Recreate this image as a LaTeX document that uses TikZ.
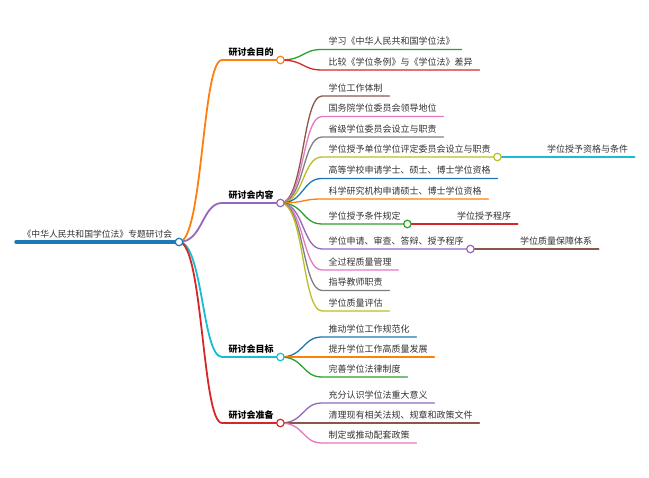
\documentclass[tikz,border=0pt]{standalone}
\usepackage{fontspec}
\setmainfont{Noto Sans CJK SC}
\usetikzlibrary{positioning}
\definecolor{cblue}{HTML}{1F77B4}
\definecolor{corange}{HTML}{FF7F0E}
\definecolor{cgreen}{HTML}{2CA02C}
\definecolor{cred}{HTML}{D62728}
\definecolor{cpurple}{HTML}{9467BD}
\definecolor{cbrown}{HTML}{8C564B}
\definecolor{cpink}{HTML}{E377C2}
\definecolor{cgray}{HTML}{7F7F7F}
\definecolor{colive}{HTML}{BCBD22}
\definecolor{ccyan}{HTML}{17BECF}
\begin{document}
\begin{tikzpicture}[x=1pt, y=-1pt, line cap=round, line join=round, font=\fontsize{9}{11}\selectfont]
	\tikzset{topic/.style={anchor=south west, inner xsep=6.5pt, inner ysep=4.5pt, text height=7pt, text depth=0pt, text=black!80},
		main/.style={topic, font=\fontsize{9}{11}\selectfont\bfseries, text=black},
		dot/.style={circle, draw=#1, fill=white, line width=1.2pt, inner sep=0pt, minimum size=7.5pt},
		thick link/.style={line width=1.8pt},
		thin link/.style={line width=1.3pt}}
	\useasboundingbox (0,0) rectangle (649,478);
	% root and main topics
	\node[topic, font=\fontsize{8.8}{11}\selectfont] (root) at (16,242) {《中华人民共和国学位法》专题研讨会};
	\node[main] (aim) at (222,60) {研讨会目的};
	\node[main] (cont) at (222,203) {研讨会内容};
	\node[main] (goal) at (222,357) {研讨会目标};
	\node[main] (prep) at (222,423) {研讨会准备};
	% subtopics
	\node[topic] (aim1) at (322,49.5) {学习《中华人民共和国学位法》};
	\node[topic] (aim2) at (322,70) {比较《学位条例》与《学位法》差异};
	\node[topic] (cont1) at (322,96) {学位工作体制};
	\node[topic] (cont2) at (322,116.5) {国务院学位委员会领导地位};
	\node[topic] (cont3) at (322,137) {省级学位委员会设立与职责};
	\node[topic] (cont4) at (322,157) {学位授予单位学位评定委员会设立与职责};
	\node[topic] (cont5) at (322,178.5) {高等学校申请学士、硕士、博士学位资格};
	\node[topic] (cont6) at (322,199) {科学研究机构申请硕士、博士学位资格};
	\node[topic] (cont7) at (322,224) {学位授予条件规定};
	\node[topic] (cont8) at (322,249) {学位申请、审查、答辩、授予程序};
	\node[topic] (cont9) at (322,270) {全过程质量管理};
	\node[topic] (cont10) at (322,290.5) {指导教师职责};
	\node[topic] (cont11) at (322,311) {学位质量评估};
	\node[topic] (cont4a) at ([xshift=43pt]cont4.south east) {学位授予资格与条件};
	\node[topic] (cont7a) at ([xshift=43pt]cont7.south east) {学位授予程序};
	\node[topic] (cont8a) at ([xshift=43pt]cont8.south east) {学位质量保障体系};
	\node[topic] (goal1) at (322,337) {推动学位工作规范化};
	\node[topic] (goal2) at (322,357) {提升学位工作高质量发展};
	\node[topic] (goal3) at (322,377) {完善学位法律制度};
	\node[topic] (prep1) at (322,403) {充分认识学位法重大意义};
	\node[topic] (prep2) at (322,423) {清理现有相关法规、规章和政策文件};
	\node[topic] (prep3) at (322,443) {制定或推动配套政策};
	% branches
	\draw[cblue, line width=3.5pt] (root.south west)--(root.south east);
	\draw[corange, thick link] (root.south east) .. controls +(24,0) and +(-20,0) .. (aim.south west)--(aim.south east);
	\draw[cpurple, thick link] (root.south east) .. controls +(24,0) and +(-20,0) .. (cont.south west)--(cont.south east);
	\draw[ccyan, thick link] (root.south east) .. controls +(24,0) and +(-20,0) .. (goal.south west)--(goal.south east);
	\draw[cred, thick link] (root.south east) .. controls +(24,0) and +(-20,0) .. (prep.south west)--(prep.south east);
	\draw[cgreen, thin link] (aim.south east) .. controls +(24,0) and +(-20,0) .. (aim1.south west)--(aim1.south east);
	\draw[cred, thin link] (aim.south east) .. controls +(24,0) and +(-20,0) .. (aim2.south west)--(aim2.south east);
	\draw[cbrown, thin link] (cont.south east) .. controls +(24,0) and +(-20,0) .. (cont1.south west)--(cont1.south east);
	\draw[cpink, thin link] (cont.south east) .. controls +(24,0) and +(-20,0) .. (cont2.south west)--(cont2.south east);
	\draw[cgray, thin link] (cont.south east) .. controls +(24,0) and +(-20,0) .. (cont3.south west)--(cont3.south east);
	\draw[colive, thin link] (cont.south east) .. controls +(24,0) and +(-20,0) .. (cont4.south west)--(cont4.south east);
	\draw[cblue, thin link] (cont.south east) .. controls +(24,0) and +(-20,0) .. (cont5.south west)--(cont5.south east);
	\draw[corange, thin link] (cont.south east) .. controls +(24,0) and +(-20,0) .. (cont6.south west)--(cont6.south east);
	\draw[cgreen, thin link] (cont.south east) .. controls +(24,0) and +(-20,0) .. (cont7.south west)--(cont7.south east);
	\draw[cpurple, thin link] (cont.south east) .. controls +(24,0) and +(-20,0) .. (cont8.south west)--(cont8.south east);
	\draw[cpink, thin link] (cont.south east) .. controls +(24,0) and +(-20,0) .. (cont9.south west)--(cont9.south east);
	\draw[cgray, thin link] (cont.south east) .. controls +(24,0) and +(-20,0) .. (cont10.south west)--(cont10.south east);
	\draw[colive, thin link] (cont.south east) .. controls +(24,0) and +(-20,0) .. (cont11.south west)--(cont11.south east);
	\draw[ccyan, thin link] (cont4.south east)--(cont4a.south west)--(cont4a.south east);
	\draw[cred, thin link] (cont7.south east)--(cont7a.south west)--(cont7a.south east);
	\draw[cbrown, thin link] (cont8.south east)--(cont8a.south west)--(cont8a.south east);
	\draw[cblue, thin link] (goal.south east) .. controls +(24,0) and +(-20,0) .. (goal1.south west)--(goal1.south east);
	\draw[corange, thin link] (goal.south east) .. controls +(24,0) and +(-20,0) .. (goal2.south west)--(goal2.south east);
	\draw[cgreen, thin link] (goal.south east) .. controls +(24,0) and +(-20,0) .. (goal3.south west)--(goal3.south east);
	\draw[cpurple, thin link] (prep.south east) .. controls +(24,0) and +(-20,0) .. (prep1.south west)--(prep1.south east);
	\draw[cbrown, thin link] (prep.south east) .. controls +(24,0) and +(-20,0) .. (prep2.south west)--(prep2.south east);
	\draw[cpink, thin link] (prep.south east) .. controls +(24,0) and +(-20,0) .. (prep3.south west)--(prep3.south east);
	% fold circles
	\node[dot=cblue] (rootk) at (root.south east) {};
	\node[dot=corange] (aimk) at (aim.south east) {};
	\node[dot=cpurple] (contk) at (cont.south east) {};
	\node[dot=ccyan] (goalk) at (goal.south east) {};
	\node[dot=cred] (prepk) at (prep.south east) {};
	\node[dot=colive] (cont4k) at (cont4.south east) {};
	\node[dot=cgreen] (cont7k) at (cont7.south east) {};
	\node[dot=cpurple] (cont8k) at (cont8.south east) {};
\end{tikzpicture}
\end{document}
